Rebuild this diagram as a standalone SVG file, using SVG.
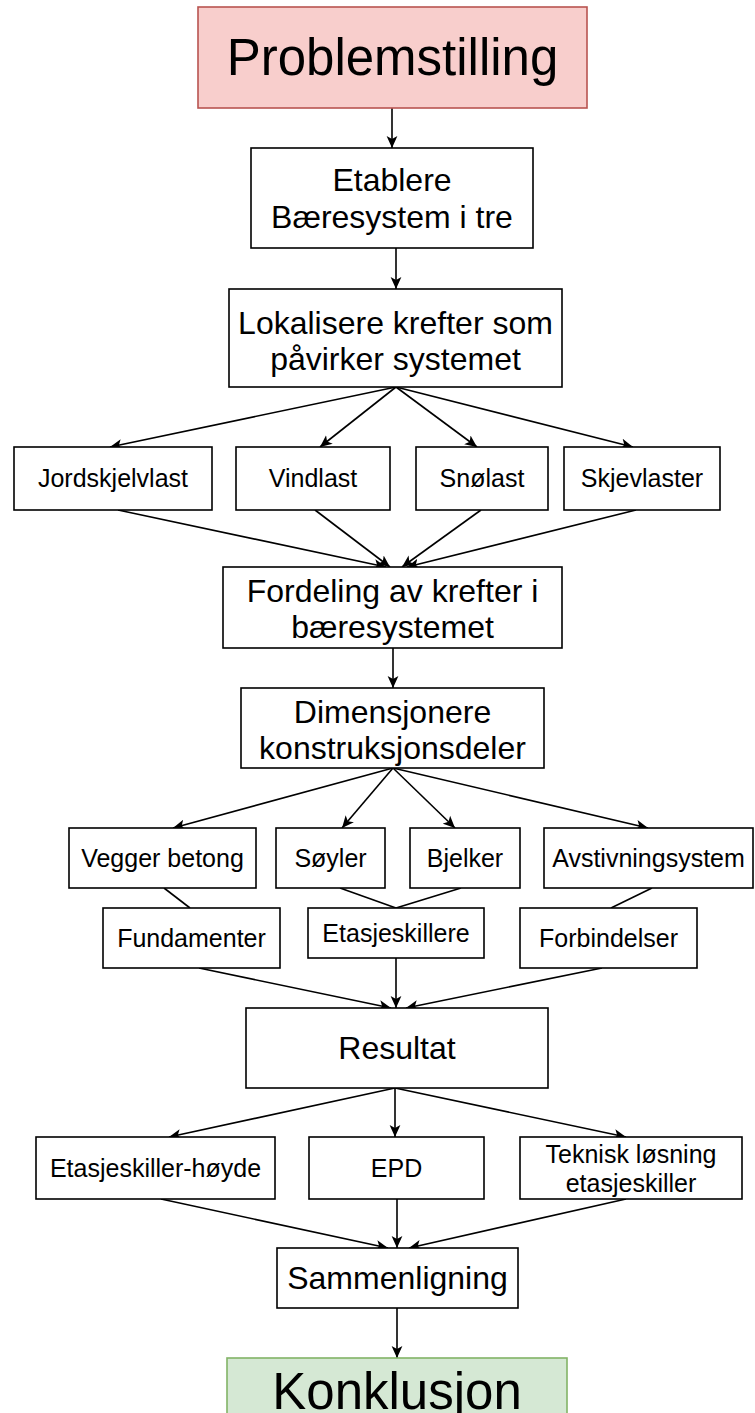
<svg xmlns="http://www.w3.org/2000/svg" width="755" height="1413" viewBox="0 0 755 1413">
<style>
.b{fill:#fff;stroke:#000;stroke-width:1.6}
.t{font-family:"Liberation Sans",Arial,sans-serif;fill:#000;text-anchor:middle}
.xl{font-size:51px}
.m{font-size:32px}
.s{font-size:25px}
.c{fill:none;stroke:#000;stroke-width:1.6}
</style>
<defs>
<marker id="arr" viewBox="0 0 10 10" refX="10" refY="5" markerWidth="12" markerHeight="12" markerUnits="userSpaceOnUse" orient="auto">
<path d="M0,0.5 L10,5 L0,9.5 L2.5,5 Z" fill="#000"/>
</marker>
</defs>
<g id="connectors">
<line class="c" x1="392" y1="108" x2="392" y2="148" marker-end="url(#arr)"/>
<line class="c" x1="396" y1="248" x2="396" y2="289" marker-end="url(#arr)"/>
<line class="c" x1="396" y1="387" x2="110" y2="447" marker-end="url(#arr)"/>
<line class="c" x1="396" y1="387" x2="320" y2="447" marker-end="url(#arr)"/>
<line class="c" x1="396" y1="387" x2="477" y2="447" marker-end="url(#arr)"/>
<line class="c" x1="396" y1="387" x2="633" y2="447" marker-end="url(#arr)"/>
<line class="c" x1="118" y1="510" x2="386" y2="567" marker-end="url(#arr)"/>
<line class="c" x1="315" y1="510" x2="390" y2="567" marker-end="url(#arr)"/>
<line class="c" x1="481" y1="510" x2="402" y2="567" marker-end="url(#arr)"/>
<line class="c" x1="636" y1="510" x2="407" y2="567" marker-end="url(#arr)"/>
<line class="c" x1="393" y1="648" x2="393" y2="688" marker-end="url(#arr)"/>
<line class="c" x1="393" y1="768" x2="173" y2="828" marker-end="url(#arr)"/>
<line class="c" x1="393" y1="768" x2="342" y2="828" marker-end="url(#arr)"/>
<line class="c" x1="393" y1="768" x2="455" y2="828" marker-end="url(#arr)"/>
<line class="c" x1="393" y1="768" x2="648" y2="828" marker-end="url(#arr)"/>
<line class="c" x1="164" y1="888" x2="190" y2="908"/>
<line class="c" x1="340" y1="888" x2="396" y2="908"/>
<line class="c" x1="461" y1="888" x2="396" y2="908"/>
<line class="c" x1="652" y1="888" x2="611" y2="908"/>
<line class="c" x1="199" y1="968" x2="391" y2="1008" marker-end="url(#arr)"/>
<line class="c" x1="396" y1="958" x2="396" y2="1008" marker-end="url(#arr)"/>
<line class="c" x1="602" y1="968" x2="406" y2="1008" marker-end="url(#arr)"/>
<line class="c" x1="395" y1="1088" x2="169" y2="1137" marker-end="url(#arr)"/>
<line class="c" x1="395" y1="1088" x2="395" y2="1137" marker-end="url(#arr)"/>
<line class="c" x1="395" y1="1088" x2="626" y2="1137" marker-end="url(#arr)"/>
<line class="c" x1="161" y1="1199" x2="388" y2="1248" marker-end="url(#arr)"/>
<line class="c" x1="397" y1="1199" x2="397" y2="1248" marker-end="url(#arr)"/>
<line class="c" x1="626" y1="1199" x2="409" y2="1248" marker-end="url(#arr)"/>
<line class="c" x1="397" y1="1308" x2="397" y2="1358" marker-end="url(#arr)"/>
</g>
<g id="problemstilling"><rect x="198" y="7" width="389" height="101" fill="#f8cecc" stroke="#b85450" stroke-width="1.6"/><text class="t xl" x="392.5" y="75">Problemstilling</text></g>
<g id="etablere"><rect class="b" x="251" y="148" width="282" height="100"/><text class="t m" x="392" y="191">Etablere</text><text class="t m" x="392" y="228">Bæresystem i tre</text></g>
<g id="lokalisere"><rect class="b" x="229" y="289" width="333" height="98"/><text class="t m" x="395.5" y="334">Lokalisere krefter som</text><text class="t m" x="395.5" y="370">påvirker systemet</text></g>
<g id="jordskjelvlast"><rect class="b" x="14" y="447" width="198" height="63"/><text class="t s" x="113" y="487">Jordskjelvlast</text></g>
<g id="vindlast"><rect class="b" x="236" y="447" width="154" height="63"/><text class="t s" x="313" y="487">Vindlast</text></g>
<g id="snolast"><rect class="b" x="416" y="447" width="132" height="63"/><text class="t s" x="482" y="487">Snølast</text></g>
<g id="skjevlaster"><rect class="b" x="564" y="447" width="156" height="63"/><text class="t s" x="642" y="487">Skjevlaster</text></g>
<g id="fordeling"><rect class="b" x="223" y="567" width="339" height="81"/><text class="t m" x="392.5" y="602">Fordeling av krefter i</text><text class="t m" x="392.5" y="638">bæresystemet</text></g>
<g id="dimensjonere"><rect class="b" x="241" y="688" width="303" height="80"/><text class="t m" x="392.5" y="723">Dimensjonere</text><text class="t m" x="392.5" y="759">konstruksjonsdeler</text></g>
<g id="vegger"><rect class="b" x="69" y="828" width="187" height="60"/><text class="t s" x="162.5" y="867">Vegger betong</text></g>
<g id="soyler"><rect class="b" x="276" y="828" width="109" height="60"/><text class="t s" x="330.5" y="867">Søyler</text></g>
<g id="bjelker"><rect class="b" x="410" y="828" width="110" height="60"/><text class="t s" x="465" y="867">Bjelker</text></g>
<g id="avstivning"><rect class="b" x="544" y="828" width="209" height="60"/><text class="t s" x="648.5" y="867">Avstivningsystem</text></g>
<g id="fundamenter"><rect class="b" x="103" y="908" width="177" height="60"/><text class="t s" x="191.5" y="947">Fundamenter</text></g>
<g id="etasjeskillere"><rect class="b" x="308" y="908" width="176" height="50"/><text class="t s" x="396" y="942">Etasjeskillere</text></g>
<g id="forbindelser"><rect class="b" x="520" y="908" width="177" height="60"/><text class="t s" x="608.5" y="947">Forbindelser</text></g>
<g id="resultat"><rect class="b" x="246" y="1008" width="302" height="80"/><text class="t m" x="397" y="1059">Resultat</text></g>
<g id="etasjeskiller-hoyde"><rect class="b" x="36" y="1137" width="239" height="62"/><text class="t s" x="155.5" y="1177">Etasjeskiller-høyde</text></g>
<g id="epd"><rect class="b" x="309" y="1137" width="175" height="62"/><text class="t s" x="396.5" y="1177">EPD</text></g>
<g id="teknisk"><rect class="b" x="520" y="1137" width="222" height="62"/><text class="t s" x="631" y="1163">Teknisk løsning</text><text class="t s" x="631" y="1192">etasjeskiller</text></g>
<g id="sammenligning"><rect class="b" x="277" y="1248" width="241" height="60"/><text class="t m" x="397.5" y="1289">Sammenligning</text></g>
<g id="konklusjon"><rect x="227" y="1358" width="340" height="80" fill="#d5e8d4" stroke="#82b366" stroke-width="1.6"/><text class="t xl" x="397" y="1409">Konklusjon</text></g>
</svg>
